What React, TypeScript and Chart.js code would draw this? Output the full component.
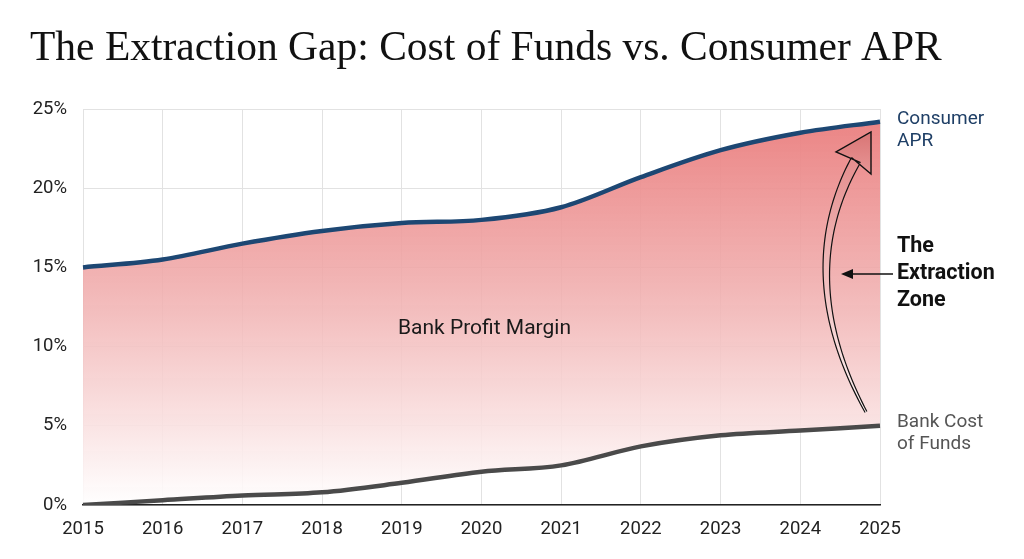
import React, { useEffect, useRef } from "react";
import { Chart, registerables } from "chart.js";

Chart.register(...registerables);

const years = ["2015", "2016", "2017", "2018", "2019", "2020", "2021", "2022", "2023", "2024", "2025"];
const consumerAPR = [15.0, 15.5, 16.5, 17.3, 17.8, 18.0, 18.8, 20.7, 22.4, 23.5, 24.2];
const bankCostOfFunds = [0.0, 0.3, 0.6, 0.8, 1.4, 2.1, 2.5, 3.7, 4.4, 4.7, 5.0];
const yTicks = [0, 5, 10, 15, 20, 25];

const titleText = "The Extraction Gap: Cost of Funds vs. Consumer APR";
const aprLabel = ["Consumer", "APR"];
const costLabel = ["Bank Cost", "of Funds"];
const zoneLabel = ["The", "Extraction", "Zone"];
const marginLabel = "Bank Profit Margin";

const annotationPlugin = {
  id: "annotations",
  afterDraw(chart: any) {
    const ctx = chart.ctx as CanvasRenderingContext2D;
    const ca = chart.chartArea;
    const xs = chart.scales.x;
    const ys = chart.scales.y;
    ctx.save();

    // Title
    ctx.fillStyle = "#111";
    ctx.textBaseline = "alphabetic";
    ctx.textAlign = "left";
    let fs = 40;
    ctx.font = `${fs}px "Liberation Serif", serif`;
    const w = ctx.measureText(titleText).width;
    fs = Math.max(34, Math.min(46, (fs * 912) / w));
    ctx.font = `${fs}px "Liberation Serif", serif`;
    ctx.fillText(titleText, 30, 60);

    // Center label
    ctx.font = `21px Roboto, sans-serif`;
    ctx.fillStyle = "#1a1a1a";
    ctx.textAlign = "center";
    ctx.textBaseline = "middle";
    ctx.fillText(marginLabel, (xs.getPixelForValue(4) + xs.getPixelForValue(6)) / 2 + 3, ys.getPixelForValue(11.1));

    // Right labels
    const lx = ca.right + 17;
    ctx.textAlign = "left";
    ctx.font = `19px Roboto, sans-serif`;
    ctx.fillStyle = "#1f3f66";
    const aprY = ys.getPixelForValue(consumerAPR[consumerAPR.length - 1]);
    ctx.fillText(aprLabel[0], lx, aprY - 2);
    ctx.fillText(aprLabel[1], lx, aprY + 20);
    ctx.fillStyle = "#555";
    const costY = ys.getPixelForValue(bankCostOfFunds[bankCostOfFunds.length - 1]);
    ctx.fillText(costLabel[0], lx, costY - 4);
    ctx.fillText(costLabel[1], lx, costY + 18);

    ctx.font = `bold 21.5px Roboto, sans-serif`;
    ctx.fillStyle = "#111";
    const zy = 274;
    ctx.fillText(zoneLabel[0], lx, zy - 27);
    ctx.fillText(zoneLabel[1], lx, zy);
    ctx.fillText(zoneLabel[2], lx, zy + 27);

    // Horizontal arrow
    ctx.strokeStyle = "#111";
    ctx.lineWidth = 1.5;
    ctx.beginPath();
    ctx.moveTo(lx - 4, zy);
    ctx.lineTo(850, zy);
    ctx.stroke();
    ctx.fillStyle = "#111";
    ctx.beginPath();
    ctx.moveTo(841, zy);
    ctx.lineTo(853, zy - 5);
    ctx.lineTo(853, zy + 5);
    ctx.closePath();
    ctx.fill();

    // Curved hollow arrow
    const P0 = { x: 866, y: 412 };
    const P1 = { x: 792, y: 275 };
    const P2 = { x: 856, y: 160 };
    const N = 60;
    const left: { x: number; y: number }[] = [];
    const right: { x: number; y: number }[] = [];
    for (let i = 0; i <= N; i++) {
      const t = i / N;
      const x = (1 - t) * (1 - t) * P0.x + 2 * t * (1 - t) * P1.x + t * t * P2.x;
      const y = (1 - t) * (1 - t) * P0.y + 2 * t * (1 - t) * P1.y + t * t * P2.y;
      const dx = 2 * (1 - t) * (P1.x - P0.x) + 2 * t * (P2.x - P1.x);
      const dy = 2 * (1 - t) * (P1.y - P0.y) + 2 * t * (P2.y - P1.y);
      const len = Math.hypot(dx, dy);
      const nx = -dy / len;
      const ny = dx / len;
      const half = 1 + 4.2 * t;
      left.push({ x: x + nx * half, y: y + ny * half });
      right.push({ x: x - nx * half, y: y - ny * half });
    }
    const grad = ctx.createLinearGradient(0, 412, 0, 132);
    grad.addColorStop(0, "rgba(255,245,245,0.9)");
    grad.addColorStop(1, "rgba(225,130,130,0.95)");
    ctx.beginPath();
    ctx.moveTo(left[0].x, left[0].y);
    for (const p of left) ctx.lineTo(p.x, p.y);
    for (let i = right.length - 1; i >= 0; i--) ctx.lineTo(right[i].x, right[i].y);
    ctx.closePath();
    ctx.fillStyle = grad;
    ctx.fill();
    ctx.strokeStyle = "#111";
    ctx.lineWidth = 1.2;
    ctx.beginPath();
    ctx.moveTo(left[0].x, left[0].y);
    for (const p of left) ctx.lineTo(p.x, p.y);
    ctx.stroke();
    ctx.beginPath();
    ctx.moveTo(right[0].x, right[0].y);
    for (const p of right) ctx.lineTo(p.x, p.y);
    ctx.stroke();

    // Arrowhead
    const tip = { x: 871, y: 132 };
    const bl = { x: 836, y: 152 };
    const br = { x: 871, y: 174 };
    const nl = left[N];
    const nr = right[N];
    ctx.beginPath();
    ctx.moveTo(nl.x, nl.y);
    ctx.lineTo(bl.x, bl.y);
    ctx.lineTo(tip.x, tip.y);
    ctx.lineTo(br.x, br.y);
    ctx.lineTo(nr.x, nr.y);
    const hg = ctx.createLinearGradient(0, 174, 0, 132);
    hg.addColorStop(0, "rgba(232,150,150,0.95)");
    hg.addColorStop(1, "rgba(215,115,115,0.95)");
    ctx.fillStyle = hg;
    ctx.fill();
    ctx.lineWidth = 1.4;
    ctx.stroke();

    ctx.restore();
  },
};

export default function App() {
  const ref = useRef<HTMLCanvasElement | null>(null);
  useEffect(() => {
    if (!ref.current) return;
    const chart = new Chart(ref.current, {
      type: "line",
      data: {
        labels: years,
        datasets: [
          {
            label: "Consumer APR",
            data: consumerAPR,
            borderColor: "#1d4773",
            borderWidth: 4.5,
            pointRadius: 0,
            cubicInterpolationMode: "monotone",
            fill: "+1",
            backgroundColor: (c: any) => {
              const area = c.chart.chartArea;
              if (!area) return "rgba(235,130,130,0.8)";
              const g = c.chart.ctx.createLinearGradient(0, area.top, 0, area.bottom);
              g.addColorStop(0, "rgba(234,125,125,0.97)");
              g.addColorStop(0.45, "rgba(240,172,172,0.88)");
              g.addColorStop(1, "rgba(255,255,255,0.9)");
              return g;
            },
          },
          {
            label: "Bank Cost of Funds",
            data: bankCostOfFunds,
            borderColor: "#4a4a4a",
            borderWidth: 4.5,
            pointRadius: 0,
            cubicInterpolationMode: "monotone",
            fill: false,
          },
        ],
      },
      options: {
        animation: false,
        responsive: false,
        layout: { padding: { left: 0, right: 144, top: 109, bottom: 0 } },
        plugins: {
          legend: { display: false },
          tooltip: { enabled: false },
          title: { display: false },
          filler: { drawTime: "beforeDatasetsDraw" },
        } as any,
        scales: {
          x: {
            grid: { color: "#e2e2e2", lineWidth: 1, drawTicks: false, offset: false },
            border: { display: true, color: "#222", width: 1.5 },
            ticks: { font: { family: "Roboto", size: 18.5 }, color: "#222", padding: 13, maxRotation: 0 },
            afterFit: (s: any) => {
              s.height = 54;
            },
          },
          y: {
            min: 0,
            max: 25,
            afterBuildTicks: (s: any) => {
              s.ticks = yTicks.map((v) => ({ value: v }));
            },
            grid: { color: "#e2e2e2", lineWidth: 1, drawTicks: false },
            border: { display: false },
            ticks: {
              font: { family: "Roboto", size: 18.5 },
              color: "#222",
              padding: 16,
              callback: (v: any) => `${v}%`,
            },
            afterFit: (s: any) => {
              s.width = 83;
            },
          },
        },
      },
      plugins: [annotationPlugin],
    });
    return () => chart.destroy();
  }, []);
  return (
    <div style={{ position: "fixed", left: 0, top: 0, width: 1024, height: 559, background: "#fff" }}>
      <canvas ref={ref} width={1024} height={559} style={{ width: 1024, height: 559 }} />
    </div>
  );
}
